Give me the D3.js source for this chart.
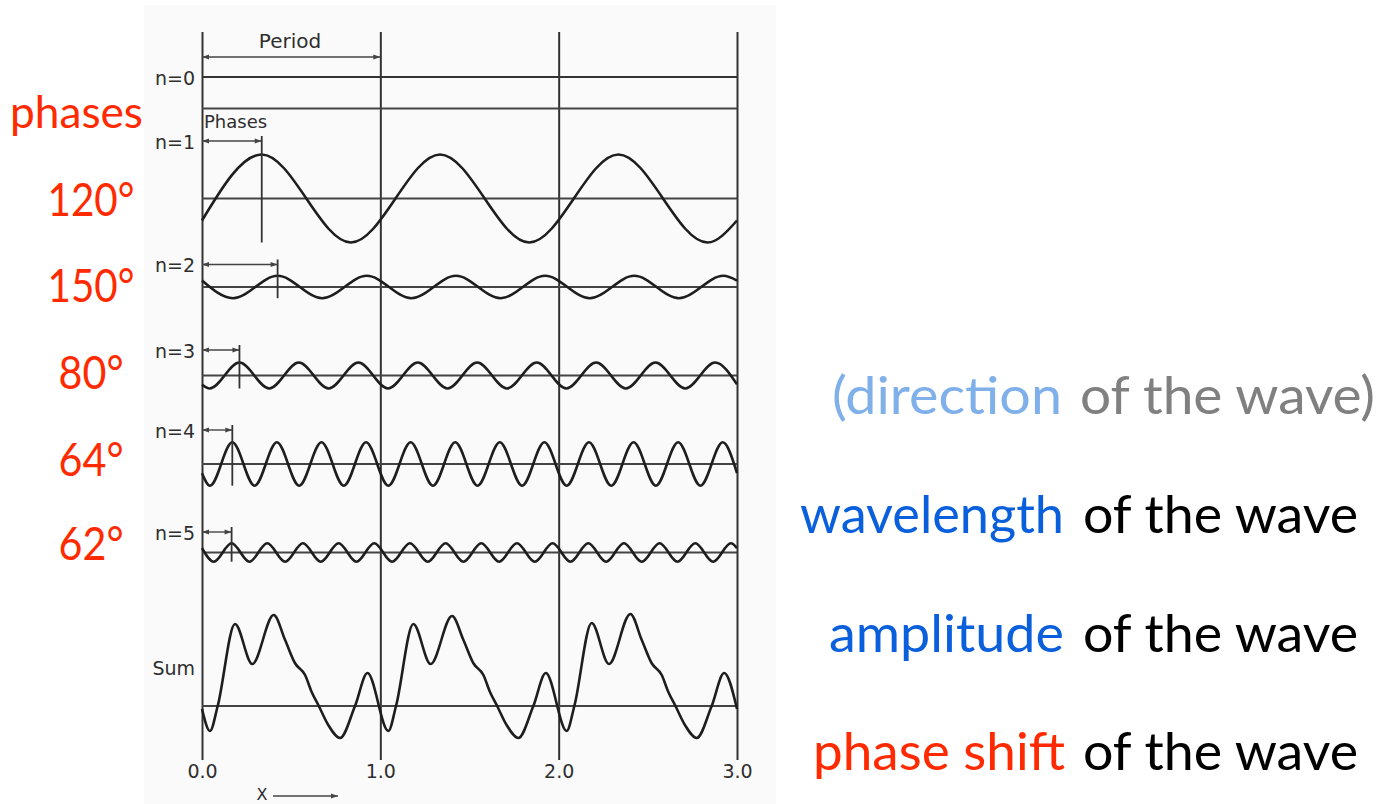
<!DOCTYPE html>
<html>
<head>
<style>
  body { margin: 0; background: #fff; }
  svg { display: block; }
  .fig { font-family: "DejaVu Sans", sans-serif; fill: #2e2e2e; }
  .slide { font-family: Lato, "Noto Sans", sans-serif; }
</style>
</head>
<body>
<svg width="1390" height="804"></svg>
<script src="https://d3js.org/d3.v7.min.js"></script>
<script>
// ---- values (x in periods, y in amplitude units) ----
var xTicks = [0, 1, 2, 3];
var rowLabels = ["n=0", "n=1", "n=2", "n=3", "n=4", "n=5", "Sum"];
var phaseLabels = ["120°", "150°", "80°", "64°", "62°"];
var phaseMarks = [0.335, 0.424, 0.21, 0.17, 0.166];   // first crest of each harmonic
var markDepth = [-44, -11.2, -13, -21.7, -9.2];        // marker drops to the trough

var wave0 = [[0, 31.5], [3, 31.5]];
var wave1 = [[0, -22], [0.335, 44], [0.835, -44], [1.335, 44], [1.835, -44], [2.335, 44], [2.835, -44], [3, -22]];
var wave2 = [[0, 6.4], [0.174, -11.2], [0.424, 11.2], [0.674, -11.2], [0.924, 11.2], [1.174, -11.2], [1.424, 11.2],
             [1.674, -11.2], [1.924, 11.2], [2.174, -11.2], [2.424, 11.2], [2.674, -11.2], [2.924, 11.2], [3, 6.4]];
var wave3 = [[0, -8.9], [0.043, -13], [0.21, 13], [0.377, -13], [0.543, 13], [0.71, -13], [0.877, 13],
             [1.043, -13], [1.21, 13], [1.377, -13], [1.543, 13], [1.71, -13], [1.877, 13],
             [2.043, -13], [2.21, 13], [2.377, -13], [2.543, 13], [2.71, -13], [2.877, 13], [3, -8.9]];
var wave4 = [[0, -9.2], [0.045, -21.7], [0.17, 21.7], [0.295, -21.7], [0.42, 21.7], [0.545, -21.7], [0.67, 21.7], [0.795, -21.7], [0.92, 21.7],
             [1.045, -21.7], [1.17, 21.7], [1.295, -21.7], [1.42, 21.7], [1.545, -21.7], [1.67, 21.7], [1.795, -21.7], [1.92, 21.7],
             [2.045, -21.7], [2.17, 21.7], [2.295, -21.7], [2.42, 21.7], [2.545, -21.7], [2.67, 21.7], [2.795, -21.7], [2.92, 21.7], [3, -9.2]];
var wave5 = [[0, 4.4], [0.066, -9.2], [0.166, 9.2], [0.266, -9.2], [0.366, 9.2], [0.466, -9.2], [0.566, 9.2], [0.666, -9.2], [0.766, 9.2], [0.866, -9.2], [0.966, 9.2],
             [1.066, -9.2], [1.166, 9.2], [1.266, -9.2], [1.366, 9.2], [1.466, -9.2], [1.566, 9.2], [1.666, -9.2], [1.766, 9.2], [1.866, -9.2], [1.966, 9.2],
             [2.066, -9.2], [2.166, 9.2], [2.266, -9.2], [2.366, 9.2], [2.466, -9.2], [2.566, 9.2], [2.666, -9.2], [2.766, 9.2], [2.866, -9.2], [2.966, 9.2], [3, 4.4]];
var waveSum = [[0, -3], [0.045, -25], [0.088, 0], [0.185, 82], [0.282, 42], [0.402, 91], [0.466, 66], [0.521, 43], [0.578, 31], [0.615, 14], [0.655, 0], [0.708, -19], [0.774, -32], [0.858, 0], [0.928, 33],
               [1.045, -25], [1.088, 0], [1.185, 82], [1.282, 42], [1.402, 90], [1.466, 66], [1.521, 43], [1.578, 31], [1.615, 14], [1.655, 0], [1.708, -19], [1.774, -32], [1.858, 0], [1.928, 33],
               [2.045, -25], [2.088, 0], [2.185, 83], [2.282, 42], [2.402, 92], [2.466, 66], [2.521, 43], [2.578, 31], [2.615, 14], [2.655, 0], [2.708, -19], [2.774, -32], [2.858, 0], [2.928, 33], [3, -3]];
var waves = [wave0, wave1, wave2, wave3, wave4, wave5, waveSum];

var rightFirst = ["(direction", "wavelength", "amplitude", "phase shift"];
var rightRest = ["of the wave)", "of the wave", "of the wave", "of the wave"];

// ---- layout ----
var rowBase = [108.5, 198.5, 287, 375.5, 464, 552.5, 706];
var labelY = [78, 142, 265, 351, 431, 533, 668];
var arrowY = [141, 264.5, 350, 430, 532];
var leftY = [216, 302, 389, 476, 560];
var leftW = [87, 87, 65, 65, 65];
var rightY = [414, 533, 652, 770];
var firstX = [832, 800, 829, 813], firstW = [230, 264, 235, 252];
var restX = [1080, 1083, 1083, 1083], restW = [295, 275, 275, 275];
var firstColor = ["#80b0ea", "#0a5fdc", "#0a5fdc", "#ff2a00"];
var restColor = ["#808080", "#000", "#000", "#000"];

var svg = d3.select("svg");
var x = d3.scaleLinear().domain([0, 3]).range([202, 737]);
var yAmp = d3.scaleLinear().domain([-100, 100]).range([100, -100]);
var line = d3.line().x(function (d) { return x(d[0]); }).y(function (d) { return yAmp(d[1]); }).curve(d3.curveMonotoneX);

// scanned page background
svg.append("rect").attr("x", 144).attr("y", 5).attr("width", 632).attr("height", 799).attr("fill", "#fafafa");

var defs = svg.append("defs");
defs.append("marker").attr("id", "head").attr("viewBox", "0 0 10 10").attr("refX", 10).attr("refY", 5)
    .attr("markerWidth", 9).attr("markerHeight", 7).attr("markerUnits", "userSpaceOnUse").attr("orient", "auto-start-reverse")
    .append("path").attr("d", "M0,1.5L10,5L0,8.5Z").attr("fill", "#444");

// vertical period lines + tick labels
var ax = svg.append("g").attr("transform", "translate(0,760)")
    .call(d3.axisBottom(x).tickValues(xTicks).tickSize(-(760 - 32)).tickPadding(5).tickFormat(d3.format(".1f")));
ax.select(".domain").remove();
ax.selectAll(".tick line").attr("stroke", "#333").attr("stroke-width", 2);
ax.selectAll(".tick text").attr("class", "fig").attr("font-size", 19).attr("fill", "#2e2e2e");

// rows
waves.forEach(function (w, i) {
    var g = svg.append("g").attr("transform", "translate(0," + rowBase[i] + ")");
    g.append("path").attr("d", line([[0, 0], [3, 0]])).attr("fill", "none").attr("stroke", "#444").attr("stroke-width", 1.8);
    g.append("path").attr("d", line(w)).attr("fill", "none").attr("stroke", i === 0 ? "#333" : "#1e1e1e")
        .attr("stroke-width", i === 0 ? 2 : 2.6).attr("stroke-linejoin", "round");
    svg.append("text").attr("class", "fig").attr("x", 195).attr("y", labelY[i]).attr("dy", "0.35em")
        .attr("text-anchor", "end").attr("font-size", 19).text(rowLabels[i]);
});

// phase arrows and crest markers
phaseMarks.forEach(function (p, i) {
    var row = i + 1;
    svg.append("line").attr("x1", x(0)).attr("x2", x(p)).attr("y1", arrowY[i]).attr("y2", arrowY[i])
        .attr("stroke", "#444").attr("stroke-width", 1.4)
        .attr("marker-start", "url(#head)").attr("marker-end", "url(#head)");
    svg.append("line").attr("x1", x(p)).attr("x2", x(p)).attr("y1", arrowY[i] - 5).attr("y2", rowBase[row] + yAmp(markDepth[i]))
        .attr("stroke", "#333").attr("stroke-width", 1.8);
});

// period arrow
svg.append("line").attr("x1", x(0)).attr("x2", x(1)).attr("y1", 57).attr("y2", 57)
    .attr("stroke", "#444").attr("stroke-width", 1.5)
    .attr("marker-start", "url(#head)").attr("marker-end", "url(#head)");
svg.append("text").attr("class", "fig").attr("x", 290).attr("y", 48).attr("text-anchor", "middle").attr("font-size", 20).text("Period");
svg.append("text").attr("class", "fig").attr("x", 204).attr("y", 128).attr("font-size", 18).text("Phases");

// x label
svg.append("text").attr("class", "fig").attr("x", 262).attr("y", 794).attr("dy", "0.35em").attr("text-anchor", "middle").attr("font-size", 16).text("X");
svg.append("line").attr("x1", 273).attr("x2", 338).attr("y1", 796).attr("y2", 796)
    .attr("stroke", "#444").attr("stroke-width", 1.4).attr("marker-end", "url(#head)");

// left annotations
svg.append("text").attr("class", "slide").attr("x", 10).attr("y", 128).attr("font-size", 45)
    .attr("textLength", 133).attr("lengthAdjust", "spacingAndGlyphs").attr("fill", "#ff2a00").text("phases");
phaseLabels.forEach(function (t, i) {
    svg.append("text").attr("class", "slide").attr("x", 91 - leftW[i] / 2).attr("y", leftY[i])
        .attr("font-size", 46).attr("textLength", leftW[i]).attr("lengthAdjust", "spacingAndGlyphs")
        .attr("fill", "#ff2a00").text(t);
});

// right annotations
rightFirst.forEach(function (t, i) {
    svg.append("text").attr("class", "slide").attr("x", firstX[i]).attr("y", rightY[i]).attr("font-size", 53)
        .attr("textLength", firstW[i]).attr("lengthAdjust", "spacingAndGlyphs").attr("fill", firstColor[i]).text(t);
    svg.append("text").attr("class", "slide").attr("x", restX[i]).attr("y", rightY[i]).attr("font-size", 53)
        .attr("textLength", restW[i]).attr("lengthAdjust", "spacingAndGlyphs").attr("fill", restColor[i]).text(rightRest[i]);
});
</script>
</body>
</html>
